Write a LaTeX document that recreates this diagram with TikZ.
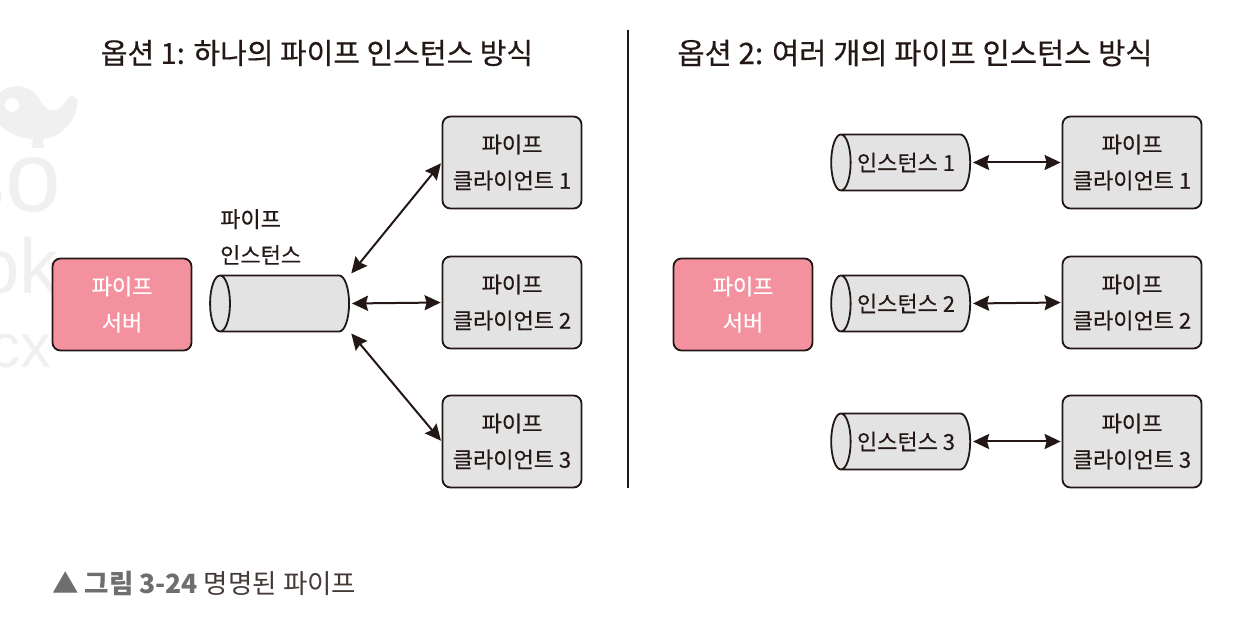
\documentclass[tikz,border=0pt]{standalone}
\usepackage{fontspec}
\setmainfont[FakeBold=0.4]{Noto Sans CJK KR}
\newfontfamily\capfont{Noto Sans CJK KR}
\newfontfamily\markfont{Liberation Sans}
\usetikzlibrary{shapes.geometric, arrows.meta}

\definecolor{inkline}{HTML}{231815}
\definecolor{boxgray}{HTML}{E3E3E3}
\definecolor{serverpink}{HTML}{F4919F}
\definecolor{capgray}{HTML}{6E6E6E}
\definecolor{markgray}{HTML}{F0F0F0}

\tikzstyle{server} = [draw=inkline, fill=serverpink, line width=1.8pt, text=white,
    rectangle, rounded corners=8pt, minimum width=139pt, minimum height=92pt,
    align=center, font=\fontsize{22}{36}\selectfont]
\tikzstyle{client} = [draw=inkline, fill=boxgray, line width=1.8pt, text=inkline,
    rectangle, rounded corners=8pt, minimum width=139pt, minimum height=92pt,
    align=center, font=\fontsize{22}{36}\selectfont]
\tikzstyle{pipe} = [draw=inkline, line width=1.8pt, text=inkline, cylinder,
    shape border rotate=180, aspect=1, cylinder uses custom fill,
    cylinder body fill=boxgray, cylinder end fill=boxgray, inner sep=0pt,
    minimum height=139pt, minimum width=56pt, font=\fontsize{22}{26}\selectfont]
\tikzstyle{title} = [text=inkline, font=\fontsize{29}{34}\selectfont]
\tikzstyle{link} = [draw=inkline, line width=2pt, shorten <=2pt, shorten >=1pt,
    {Stealth[length=16pt,width=15pt,inset=2pt]}-{Stealth[length=16pt,width=15pt,inset=2pt]}]
\tikzstyle{watermark} = [text=markgray, inner sep=0pt, anchor=east, font=\markfont]

\begin{document}
\begin{tikzpicture}[x=1pt, y=-1pt]
\useasboundingbox (0,0) rectangle (1254,628);
%------------ Watermark ---------------------
\fill[markgray] (0,92) .. controls (14,82) and (32,85) .. (40,100)
    .. controls (46,112) and (58,116) .. (68,98)
    .. controls (74,93) and (79,98) .. (77,108)
    .. controls (73,125) and (58,138) .. (43,139) -- (44,148) -- (32,148) -- (33,139)
    .. controls (18,138) and (6,132) .. (0,125) -- cycle;
\fill[white] (12,105) circle (7);
\node[watermark, font=\markfont\fontsize{100}{100}\selectfont] (markso) at (61,185) {so};
\node[watermark, font=\markfont\fontsize{78}{78}\selectfont] (markok) at (59,266) {ok};
\node[watermark, font=\markfont\fontsize{62}{62}\selectfont] (markcx) at (52,351) {cx};
%------------ Option 1 ---------------------
\node[title] (title1) at (317,53) {옵션 1: 하나의 파이프 인스턴스 방식};
\node[server] (server1) at (122,304.5) {파이프\\서버};
\node[pipe] (pipe0) at (285,303.5) {\phantom{파}};
\node[anchor=north west, inner sep=0pt, align=left, text=inkline,
    font=\fontsize{22}{36}\selectfont] (pipelabel) at (220,209) {파이프\\인스턴스};
\node[client] (clientA1) at (512,162.5) {파이프\\클라이언트 1};
\node[client] (clientA2) at (512,302.5) {파이프\\클라이언트 2};
\node[client] (clientA3) at (512,441.5) {파이프\\클라이언트 3};
\coordinate (pipetop) at (350,275);
\coordinate (pipemid) at (pipe0.east);
\coordinate (pipebot) at (350,332);
\draw[link] (pipetop) -- (clientA1.west);
\draw[link] (pipemid) -- (clientA2.west);
\draw[link] (pipebot) -- (clientA3.west);
%------------ Divider ---------------------
\coordinate (divtop) at (628,30);
\coordinate (divbot) at (628,488);
\draw[inkline, line width=2pt] (divtop) -- (divbot);
%------------ Option 2 ---------------------
\node[title, font=\fontsize{29.6}{34}\selectfont] (title2) at (915,53) {옵션 2: 여러 개의 파이프 인스턴스 방식};
\node[server] (server2) at (743,304.5) {파이프\\서버};
\node[pipe] (pipe1) at (906,162.5) {인스턴스 1};
\node[pipe] (pipe2) at (906,303.5) {인스턴스 2};
\node[pipe] (pipe3) at (906,441.5) {인스턴스 3};
\node[client] (clientB1) at (1132,162.5) {파이프\\클라이언트 1};
\node[client] (clientB2) at (1132,302.5) {파이프\\클라이언트 2};
\node[client] (clientB3) at (1132,441.5) {파이프\\클라이언트 3};
\draw[link] (pipe1.east) -- (clientB1.west);
\draw[link] (pipe2.east) -- (clientB2.west);
\draw[link] (pipe3.east) -- (clientB3.west);
%------------ Caption ---------------------
\node[anchor=west, inner sep=0pt, font=\capfont\fontsize{26.5}{30}\selectfont] (caption) at (52,583)
{\textcolor{capgray}{▲ \textbf{그림 3-24}} \textcolor{inkline!85}{명명된 파이프}};
\end{tikzpicture}
\end{document}
